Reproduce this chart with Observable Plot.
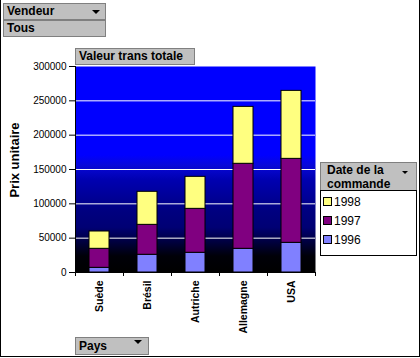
<!DOCTYPE html>
<html>
<head>
<meta charset="utf-8">
<script src="https://cdn.jsdelivr.net/npm/d3@7"></script>
<script src="https://cdn.jsdelivr.net/npm/@observablehq/plot@0.6"></script>
<style>
  html, body { margin: 0; padding: 0; background: white; }
  #wrap { position: relative; width: 420px; height: 358px; overflow: hidden; font-family: "Liberation Sans", Arial, sans-serif; }
  #wrap svg { position: absolute; left: 0; top: 0; }
  .btn { position: absolute; box-sizing: border-box; background: #c0c0c0; border: 1px solid #808080; font-weight: bold; font-size: 12px; color: #000; line-height: 15px; padding-left: 3px; white-space: nowrap; }
  .arrow { position: absolute; width: 0; height: 0; border-left: 4px solid transparent; border-right: 4px solid transparent; border-top: 4px solid #000; }
  .ytitle { position: absolute; font-weight: bold; font-size: 13px; white-space: nowrap; transform: translate(-50%, -50%) rotate(-90deg); }
  .legbox { position: absolute; box-sizing: border-box; background: #fff; border: 1px solid #000; }
  .legitem { position: absolute; left: 2px; font-size: 12px; line-height: 13px; white-space: nowrap; }
  .sw { display: inline-block; width: 7px; height: 7px; border: 1px solid #000; margin-right: 2px; vertical-align: 0px; }
  .outer { position: absolute; left: 0; top: 0; width: 420px; height: 357px; box-sizing: border-box; border: 1px solid #000; border-top: none; pointer-events: none; }
</style>
</head>
<body>
<div id="wrap"></div>
<script>
// ---- data ----
const countries = ["Suède", "Brésil", "Autriche", "Allemagne", "USA"];
const years = ["1996", "1997", "1998"];
const v1996 = [6800, 25800, 28700, 34500, 43200];
const v1997 = [27700, 43600, 64000, 123800, 122300];
const v1998 = [25200, 48100, 46600, 82900, 99000];
const yearColors = ["#8080ff", "#800080", "#ffff80"];
const yTicks = [0, 50000, 100000, 150000, 200000, 250000, 300000];
const gridTicks = [50000, 100000, 150000, 200000, 250000];
const yTitle = "Prix unitaire";
const dataField = "Valeur trans totale";
const pageField = "Vendeur";
const pageValue = "Tous";
const rowField = "Pays";
const legendTitle = ["Date de la", "commande"];

const seriesByYear = {"1996": v1996, "1997": v1997, "1998": v1998};
const rows = [];
countries.forEach((c, i) => {
  years.forEach(y => rows.push({pays: c, annee: y, valeur: seriesByYear[y][i]}));
});

const W = 420, H = 358;
const mL = 75, mR = 105, mT = 66, mB = 86;
const band = (W - mL - mR) / countries.length;

const chart = Plot.plot({
  width: W, height: H,
  marginLeft: mL, marginRight: mR, marginTop: mT, marginBottom: mB,
  style: {fontFamily: "'Liberation Sans', Arial, sans-serif", fontSize: "10px", color: "#000", background: "transparent"},
  x: {domain: countries, padding: 0, axis: null},
  y: {domain: [0, 300000], axis: null},
  color: {domain: years, range: yearColors},
  marks: [
    Plot.frame({fill: "url(#bgGrad)", stroke: null}),
    Plot.ruleY(gridTicks, {stroke: "#ffffff", strokeWidth: 1}),
    Plot.barY(rows, {x: "pays", y: "valeur", fill: "annee", stroke: "#000", strokeWidth: 1, insetLeft: 14, insetRight: 14}),
    Plot.ruleY([0], {stroke: "#000"}),
    Plot.ruleX([countries[0]], {dx: -band / 2, stroke: "#000"}),
    Plot.axisY({ticks: yTicks, tickSize: 6, tickPadding: 3, tickFormat: d3.format("d"), label: null, fontSize: 10}),
    Plot.axisX({tickSize: 4, dx: -band / 2, tickFormat: () => "", label: null}),
    Plot.axisX([countries[countries.length - 1]], {tickSize: 4, dx: band / 2, tickFormat: () => "", label: null}),
    Plot.axisX({tickSize: 0, tickPadding: 8, tickRotate: -90, fontWeight: "bold", fontSize: 10.5, label: null})
  ]
});

// gradient background definition
const ns = "http://www.w3.org/2000/svg";
const defs = document.createElementNS(ns, "defs");
const grad = document.createElementNS(ns, "linearGradient");
grad.setAttribute("id", "bgGrad");
grad.setAttribute("x1", "0"); grad.setAttribute("y1", "0");
grad.setAttribute("x2", "0"); grad.setAttribute("y2", "1");
[[0, "#0000ff"], [0.43, "#0000ff"], [0.48, "#0808d8"], [0.55, "#0000b0"], [0.63, "#000098"], [0.70, "#000080"],
 [0.78, "#000074"], [0.85, "#000040"], [0.92, "#000008"], [1, "#000000"]].forEach(([o, c]) => {
  const s = document.createElementNS(ns, "stop");
  s.setAttribute("offset", o); s.setAttribute("stop-color", c);
  grad.appendChild(s);
});
defs.appendChild(grad);
chart.insertBefore(defs, chart.firstChild);

const wrap = document.getElementById("wrap");
wrap.appendChild(chart);

function addDiv(cls, css, html) {
  const d = document.createElement("div");
  d.className = cls;
  Object.assign(d.style, css);
  if (html != null) d.innerHTML = html;
  wrap.appendChild(d);
  return d;
}

// page field buttons
addDiv("btn", {left: "3px", top: "3px", width: "103px", height: "17px"}, pageField);
addDiv("arrow", {left: "92px", top: "10px"});
addDiv("btn", {left: "3px", top: "20px", width: "103px", height: "17px"}, pageValue);
// data field button
addDiv("btn", {left: "75px", top: "48px", width: "120px", height: "17px"}, dataField);
// row field button
addDiv("btn", {left: "75px", top: "337px", width: "74px", height: "18px", lineHeight: "16px"}, rowField);
addDiv("arrow", {left: "134px", top: "340px"});
// y title
addDiv("ytitle", {left: "14px", top: "160px"}, yTitle);

// legend
addDiv("btn", {left: "320px", top: "162px", width: "97px", height: "29px", paddingLeft: "6px", lineHeight: "14px", paddingTop: "0px"}, legendTitle.join("<br>"));
addDiv("arrow", {left: "402px", top: "171px", borderLeftWidth: "3px", borderRightWidth: "3px", borderTopWidth: "3px"});
const lb = addDiv("legbox", {left: "320px", top: "190px", width: "97px", height: "66px"});
[...years].reverse().forEach((y, i) => {
  const it = document.createElement("div");
  it.className = "legitem";
  it.style.top = (5 + i * 19) + "px";
  const ci = years.indexOf(y);
  it.innerHTML = `<span class="sw" style="background:${yearColors[ci]}"></span>${y}`;
  lb.appendChild(it);
});

addDiv("outer", {});
</script>
</body>
</html>
